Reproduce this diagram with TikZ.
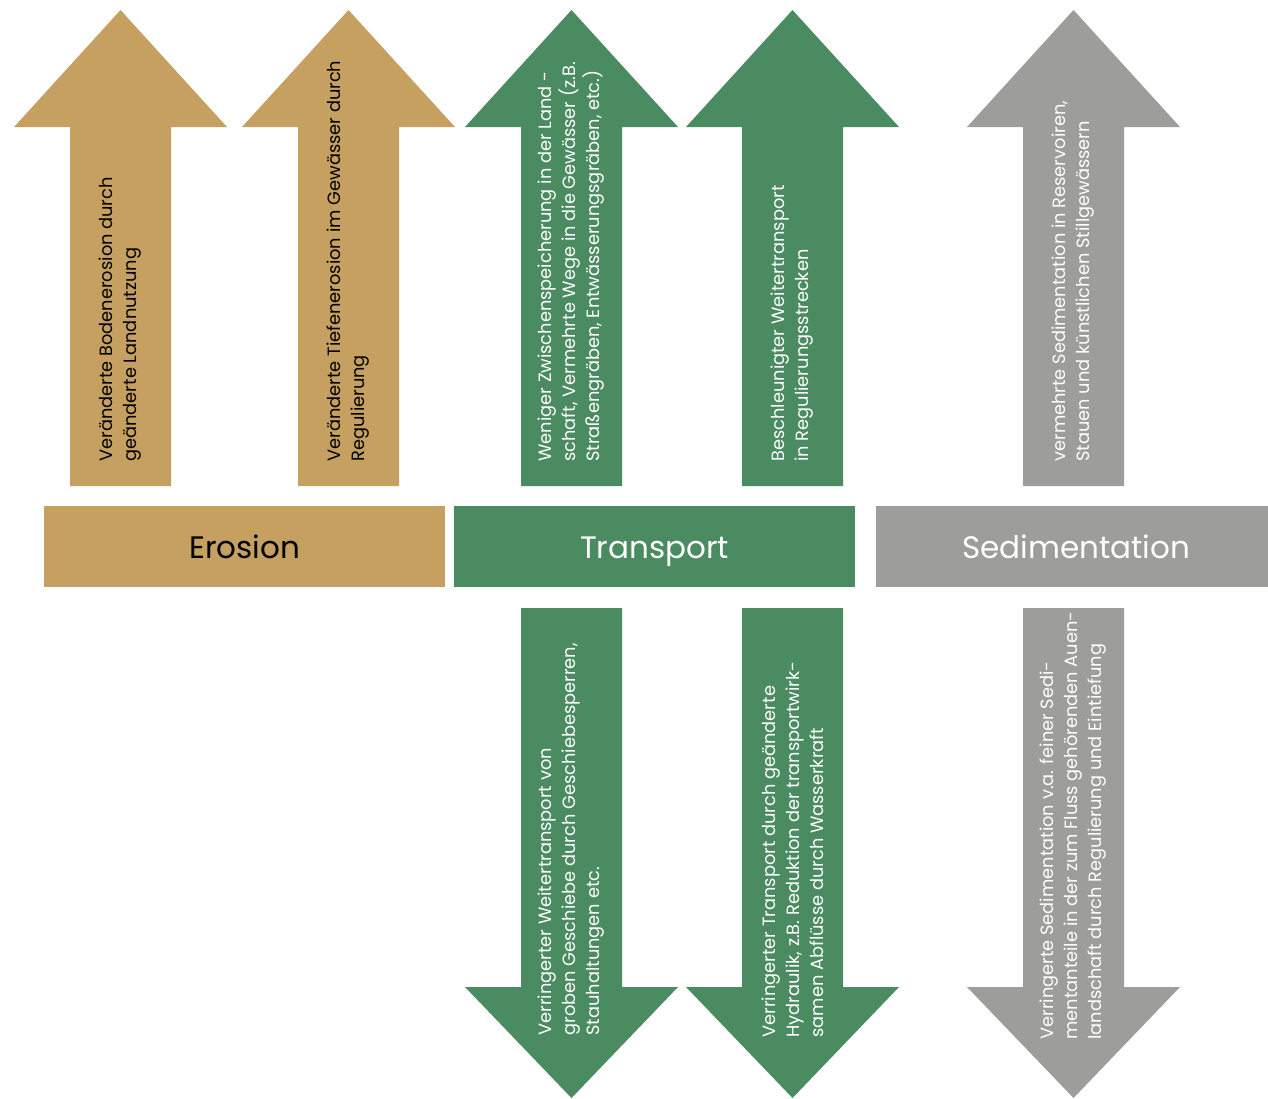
\documentclass[tikz,border=0pt]{standalone}
\usepackage{fontspec}
\setmainfont{Poppins}
\definecolor{braun}{HTML}{C6A060}
\definecolor{gruen}{HTML}{4A8B61}
\definecolor{grau}{HTML}{9D9D9C}
\tikzset{
  pfeiltext/.style={rotate=90, anchor=west, align=left, inner sep=0pt,
    font=\fontsize{8.9}{12}\selectfont},
  titel/.style={inner sep=0pt, anchor=base, font=\fontsize{15.5}{18}\selectfont}
}
% arrow with shaft centre #1 and colour #2
\newcommand{\hochpfeil}[2]{\fill[#2] (#1-50.5,486) -- (#1-50.5,127) -- (#1-106.5,127)
  -- (#1,10) -- (#1+106.5,127) -- (#1+50.5,127) -- (#1+50.5,486) -- cycle;}
\newcommand{\runterpfeil}[2]{\fill[#2] (#1-50.5,608) -- (#1-50.5,987) -- (#1-106.5,987)
  -- (#1,1098) -- (#1+106.5,987) -- (#1+50.5,987) -- (#1+50.5,608) -- cycle;}
\begin{document}
\begin{tikzpicture}[x=0.5pt,y=-0.5pt]
  \useasboundingbox (0,0) rectangle (1268,1098);
  \def\ea{120.5} \def\eb{348.5} \def\ta{571.5} \def\tb{792.5} \def\sa{1073.5}

  \hochpfeil{\ea}{braun}
  \hochpfeil{\eb}{braun}
  \hochpfeil{\ta}{gruen}
  \hochpfeil{\tb}{gruen}
  \hochpfeil{\sa}{grau}
  \runterpfeil{\ta}{gruen}
  \runterpfeil{\tb}{gruen}
  \runterpfeil{\sa}{grau}

  \fill[braun] (44,506) rectangle (445,587);
  \fill[gruen] (454,506) rectangle (855,587);
  \fill[grau] (876,506) rectangle (1268,587);
  \node[titel] (erosion) at (244.5,558) {Erosion};
  \node[titel, white] (transport) at (654.5,558) {Transport};
  \node[titel, white] (sedimentation) at (1076,558) {Sedimentation};

  \node[pfeiltext] (boden) at (\ea,462) {Veränderte Bodenerosion durch\\ geänderte Landnutzung};
  \node[pfeiltext] (tiefe) at (\eb,462) {Veränderte Tiefenerosion im Gewässer durch\\ Regulierung};
  \node[pfeiltext, white] (speicher) at (\ta,462) {Weniger Zwischenspeicherung in der Land -\\ schaft, Vermehrte Wege in die Gewässer (z.B.\\ Straßengräben, Entwässerungsgräben, etc.)};
  \node[pfeiltext, white] (beschl) at (\tb,462) {Beschleunigter Weitertransport\\ in Regulierungsstrecken};
  \node[pfeiltext, white] (reservoir) at (\sa,462) {vermehrte Sedimentation in Reservoiren,\\ Stauen und künstlichen Stillgewässern};

  \node[pfeiltext, white] (geschiebe) at (\ta,1036) {Verringerter Weitertransport von\\ groben Geschiebe durch Geschiebesperren,\\ Stauhaltungen etc.};
  \node[pfeiltext, white] (hydraulik) at (\tb,1038) {Verringerter Transport durch geänderte\\ Hydraulik, z.B. Reduktion der transportwirk-\\ samen Abflüsse durch Wasserkraft};
  \node[pfeiltext, white] (auen) at (\sa,1040) {Verringerte Sedimentation v.a. feiner Sedi-\\ mentanteile in der zum Fluss gehörenden Auen-\\ landschaft durch Regulierung und Eintiefung};
\end{tikzpicture}
\end{document}
